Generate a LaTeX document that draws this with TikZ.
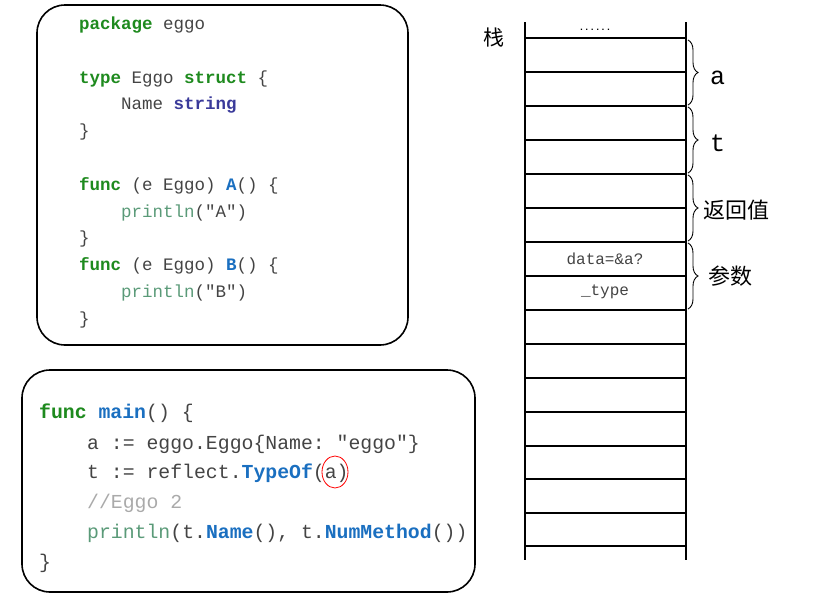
\documentclass[tikz,border=0pt]{standalone}
\usepackage{fontspec}
\setmonofont{Liberation Mono}
\newfontfamily\cjk{Noto Sans CJK SC}
\usetikzlibrary{decorations.pathreplacing}
\definecolor{kw}{HTML}{1E8A1E}
\definecolor{fn}{HTML}{1A6FC0}
\definecolor{ty}{HTML}{3A3A9A}
\definecolor{pl}{HTML}{5A9A78}
\definecolor{tx}{HTML}{444444}
\definecolor{cm}{HTML}{AAAAAA}
\begin{document}
\begin{tikzpicture}[x=1pt,y=-1pt,font=\ttfamily,
  box/.style={draw,line width=1.6pt,rounded corners=28pt},
  codeA/.style={anchor=base west,inner sep=0,font=\ttfamily\fontsize{17.5}{17.5}\selectfont,text=tx},
  codeB/.style={anchor=base west,inner sep=0,font=\ttfamily\fontsize{19.8}{19.8}\selectfont,text=tx},
  cell/.style={line width=1.2pt},
  brc/.style={decorate,decoration={brace,amplitude=10pt},line width=0.9pt},
  lab/.style={anchor=west,inner sep=0,font=\ttfamily\fontsize{25}{25}\selectfont}]
\useasboundingbox (0,0) rectangle (815,606);
\draw[box] (37,5) rectangle (408,345);
\draw[box] (22,370) rectangle (475,592);
% box 1
\node[codeA] (l1) at (79,29) {\textcolor{kw}{\textbf{package}} eggo};
\node[codeA] (l2) at (79,83) {\textcolor{kw}{\textbf{type}} Eggo \textcolor{kw}{\textbf{struct}} \{};
\node[codeA] (l3) at (121,109) {Name \textcolor{ty}{\textbf{string}}};
\node[codeA] (l4) at (79,136) {\}};
\node[codeA] (l5) at (79,190) {\textcolor{kw}{\textbf{func}} (e Eggo) \textcolor{fn}{\textbf{A}}() \{};
\node[codeA] (l6) at (121,217) {\textcolor{pl}{println}("A")};
\node[codeA] (l7) at (79,243) {\}};
\node[codeA] (l8) at (79,270) {\textcolor{kw}{\textbf{func}} (e Eggo) \textcolor{fn}{\textbf{B}}() \{};
\node[codeA] (l9) at (121,297) {\textcolor{pl}{println}("B")};
\node[codeA] (l10) at (79,324) {\}};
% box 2
\node[codeB] (m1) at (39,418) {\textcolor{kw}{\textbf{func}} \textcolor{fn}{\textbf{main}}() \{};
\node[codeB] (m2) at (87,449) {a := eggo.Eggo\{Name: "eggo"\}};
\node[codeB] (m3) at (87,478) {t := reflect.\textcolor{fn}{\textbf{TypeOf}}(a)};
\node[codeB] (m4) at (87,508) {\textcolor{cm}{//Eggo 2}};
\node[codeB] (m5) at (87,538) {\textcolor{pl}{println}(t.\textcolor{fn}{\textbf{Name}}(), t.\textcolor{fn}{\textbf{NumMethod}}())};
\node[codeB] (m6) at (39,568) {\}};
\draw[red,line width=0.8pt] (335,472) ellipse (13 and 16);
% stack
\draw[cell] (525,22) -- (525,560) (686,22) -- (686,560);
\foreach \y in {38,72,106,140,174,208,242,276,310,344,378,412,446,479,513,546}
  \draw[cell] (525,\y) -- (686,\y);
\node[inner sep=0,font=\cjk\fontsize{21}{21}\selectfont] (zhan) at (494,38) {栈};
\node[inner sep=0,font=\ttfamily\bfseries\fontsize{9}{9}\selectfont] (dots) at (595,30) {......};
\node[inner sep=0,font=\ttfamily\fontsize{16}{16}\selectfont,text=tx] (d1) at (605,259) {data=\&a?};
\node[inner sep=0,font=\ttfamily\fontsize{16}{16}\selectfont,text=tx] (d2) at (605,292) {\_type};
\draw[brc] (688,40) -- (688,105);
\draw[brc] (688,107) -- (688,173);
\draw[brc] (688,175) -- (688,241);
\draw[brc] (688,243) -- (688,309);
\node[lab] (ba) at (710,78) {a};
\node[lab] (bt) at (710,143) {t};
\node[lab,font=\cjk\fontsize{22}{22}\selectfont] (br) at (703,210) {返回值};
\node[lab,font=\cjk\fontsize{22}{22}\selectfont] (bp) at (708,276) {参数};
\end{tikzpicture}
\end{document}
